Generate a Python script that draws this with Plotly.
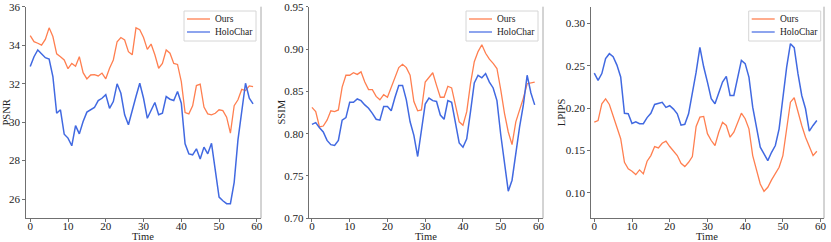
import plotly.graph_objects as go

time = list(range(60))

psnr_ours = [34.5, 34.18, 34.1, 34.0, 34.3, 34.9, 34.45, 33.55, 33.4, 33.23,
             32.78, 33.05, 32.9, 33.4, 32.57, 32.25, 32.45, 32.47, 32.4, 32.55,
             32.25, 32.8, 33.23, 34.18, 34.4, 34.27, 33.66, 33.5, 34.9, 34.8,
             34.4, 33.78, 34.06, 33.5, 32.8, 33.05, 33.75, 33.58, 33.05, 33.0,
             32.1, 30.5, 30.43, 30.85, 31.9, 31.97, 30.78, 30.43, 30.38, 30.46,
             30.64, 30.6, 30.26, 29.43, 30.85, 31.16, 31.7, 31.64, 31.88, 31.85]
psnr_holo = [32.89, 33.4, 33.75, 33.53, 33.35, 33.28, 32.37, 30.46, 30.64, 29.37,
             29.17, 28.77, 29.82, 29.39, 30.03, 30.52, 30.64, 30.76, 31.12, 31.24,
             31.43, 30.72, 31.07, 31.99, 31.5, 30.38, 29.86, 30.64, 31.33, 32.02,
             31.24, 30.2, 30.64, 31.02, 30.38, 30.46, 31.33, 31.19, 31.12, 31.59,
             30.98, 28.87, 28.35, 28.3, 28.61, 28.08, 28.7, 28.35, 28.9, 27.52,
             26.1, 25.91, 25.76, 25.76, 26.87, 29.08, 30.55, 32.02, 31.24, 30.95]

ssim_ours = [0.831, 0.826, 0.808, 0.809, 0.816, 0.827, 0.826, 0.828, 0.855, 0.869,
             0.869, 0.872, 0.870, 0.873, 0.861, 0.852, 0.852, 0.844, 0.840, 0.846,
             0.843, 0.855, 0.867, 0.878, 0.882, 0.878, 0.869, 0.838, 0.827, 0.828,
             0.861, 0.867, 0.872, 0.857, 0.843, 0.843, 0.856, 0.854, 0.834, 0.814,
             0.810, 0.826, 0.859, 0.885, 0.897, 0.905, 0.895, 0.888, 0.883, 0.877,
             0.852, 0.824, 0.802, 0.787, 0.814, 0.828, 0.842, 0.859, 0.860, 0.861]
ssim_holo = [0.811, 0.813, 0.807, 0.802, 0.792, 0.787, 0.786, 0.792, 0.816, 0.819,
             0.837, 0.837, 0.841, 0.839, 0.834, 0.830, 0.824, 0.817, 0.816, 0.832,
             0.832, 0.827, 0.843, 0.857, 0.857, 0.840, 0.814, 0.798, 0.773, 0.804,
             0.835, 0.842, 0.839, 0.838, 0.822, 0.817, 0.839, 0.837, 0.814, 0.789,
             0.784, 0.794, 0.826, 0.860, 0.869, 0.866, 0.871, 0.861, 0.854, 0.839,
             0.799, 0.762, 0.732, 0.745, 0.777, 0.808, 0.834, 0.869, 0.848, 0.834]

lpips_ours = [0.1836, 0.1855, 0.2053, 0.2112, 0.2045, 0.1915, 0.1797, 0.164, 0.1362, 0.1284,
              0.1256, 0.1217, 0.1272, 0.1225, 0.1374, 0.1441, 0.1548, 0.1532, 0.1587, 0.1611,
              0.1548, 0.149, 0.1441, 0.135, 0.1311, 0.1362, 0.143, 0.1785, 0.1895, 0.1903,
              0.170, 0.1619, 0.156, 0.1717, 0.1835, 0.1797, 0.1658, 0.1717, 0.1835, 0.1942,
              0.1876, 0.1757, 0.1441, 0.1264, 0.1106, 0.1019, 0.1066, 0.1154, 0.1232, 0.1303,
              0.1441, 0.1737, 0.2072, 0.2124, 0.1954, 0.1797, 0.1658, 0.154, 0.1441, 0.1492]
lpips_holo = [0.2415, 0.233, 0.241, 0.2586, 0.2645, 0.261, 0.251, 0.237, 0.194, 0.1935,
              0.182, 0.184, 0.1817, 0.1817, 0.189, 0.194, 0.2045, 0.206, 0.207, 0.201,
              0.203, 0.199, 0.1935, 0.180, 0.181, 0.1935, 0.217, 0.2427, 0.272, 0.249,
              0.2309, 0.2112, 0.2053, 0.2172, 0.2309, 0.2376, 0.2151, 0.2151, 0.2349, 0.2566,
              0.2527, 0.2368, 0.2013, 0.1757, 0.154, 0.1462, 0.1382, 0.148, 0.156, 0.1757,
              0.2151, 0.2487, 0.2763, 0.2716, 0.2408, 0.2151, 0.1994, 0.1729, 0.1797, 0.1856]

series_names = ["Ours", "HoloChar"]
y_titles = ["PSNR", "SSIM", "LPIPS"]
x_title = "Time"
x_ticks = [0, 10, 20, 30, 40, 50, 60]
y_ticks = [[26, 28, 30, 32, 34, 36],
           [0.70, 0.75, 0.80, 0.85, 0.90, 0.95],
           [0.10, 0.15, 0.20, 0.25, 0.30]]

ORANGE = "#FF7F50"
BLUE = "#4169E1"
BLUE_LEG = "#8DA4EE"
FONT = "Liberation Serif, Times New Roman, serif"
AX = "#707070"
W, H = 831, 242

panels = [(psnr_ours, psnr_holo), (ssim_ours, ssim_holo), (lpips_ours, lpips_holo)]
px_x = [(25.7, 261.0), (309.3, 543.0), (590.7, 824.0)]
x_ranges = [[-1.2, 61.1], [-0.7, 61.2], [-0.95, 60.9]]
y_ranges = [[25, 36], [0.70, 0.95], [0.07, 0.32]]
tickfmt = [None, ".2f", ".2f"]
ytitle_px = [6.0, 281.0, 561.7]
legend_left_px = [184.0, 466.0, 748.7]
top_px, bot_px = 6.7, 218.3

def fx(p):
    return p / W

def fy(p):
    return 1 - p / H

fig = go.Figure()
shapes, annos = [], []
layout = dict(width=W, height=H, autosize=False,
              margin=dict(l=0, r=0, t=0, b=0, pad=0, autoexpand=False),
              paper_bgcolor="white", plot_bgcolor="white", showlegend=False,
              font=dict(family=FONT, size=11, color="#222"))

for i, (ours, holo) in enumerate(panels):
    n = "" if i == 0 else str(i + 1)
    fig.add_trace(go.Scatter(x=time, y=ours, mode="lines", name=series_names[0],
                             line=dict(color=ORANGE, width=1.3), hoverinfo="skip",
                             xaxis="x" + n, yaxis="y" + n))
    fig.add_trace(go.Scatter(x=time, y=holo, mode="lines", name=series_names[1],
                             line=dict(color=BLUE, width=1.5), hoverinfo="skip",
                             xaxis="x" + n, yaxis="y" + n))
    layout["xaxis" + n] = dict(
        domain=[fx(px_x[i][0]), fx(px_x[i][1])], range=x_ranges[i], anchor="y" + n,
        tickvals=x_ticks, ticks="outside", ticklen=2.5, tickcolor=AX,
        showline=True, linecolor=AX, linewidth=1, showgrid=False, zeroline=False,
        automargin=False, fixedrange=True, ticklabelstandoff=-5,
        tickfont=dict(size=11, family=FONT, color="#222"))
    layout["yaxis" + n] = dict(
        domain=[fy(bot_px), fy(top_px)], range=y_ranges[i], anchor="x" + n,
        tickvals=y_ticks[i], tickformat=tickfmt[i], ticks="outside", ticklen=2.5,
        tickcolor=AX, showline=True, linecolor=AX, linewidth=1,
        showgrid=False, zeroline=False, automargin=False, fixedrange=True,
        tickfont=dict(size=11, family=FONT, color="#222"))
    # right spine
    shapes.append(dict(type="line", xref=f"x{n} domain", yref=f"y{n} domain",
                       x0=1, x1=1, y0=0, y1=1, line=dict(color="#a8a8a8", width=1)))
    # axis titles
    annos.append(dict(text=x_title, xref="paper", yref="paper",
                      x=fx((px_x[i][0] + px_x[i][1]) / 2), y=fy(236.0),
                      xanchor="center", yanchor="middle", showarrow=False,
                      font=dict(size=10.5, family=FONT, color="#222")))
    annos.append(dict(text=y_titles[i], xref="paper", yref="paper",
                      x=fx(ytitle_px[i]), y=fy((top_px + bot_px) / 2), textangle=-90,
                      xanchor="center", yanchor="middle", showarrow=False,
                      font=dict(size=10.5, family=FONT, color="#222")))
    # legend box
    L = legend_left_px[i]
    shapes.append(dict(type="rect", xref="paper", yref="paper", layer="above",
                       x0=fx(L), x1=fx(L + 72), y0=fy(41), y1=fy(11),
                       fillcolor="rgba(255,255,255,0.85)",
                       line=dict(color="#d6d6d6", width=1)))
    for j, (col, wd) in enumerate([(ORANGE, 1.3), (BLUE_LEG, 2.0)]):
        ry = 19.0 + 13.0 * j
        shapes.append(dict(type="line", xref="paper", yref="paper", layer="above",
                           x0=fx(L + 3), x1=fx(L + 26), y0=fy(ry), y1=fy(ry),
                           line=dict(color=col, width=wd)))
        annos.append(dict(text=series_names[j], xref="paper", yref="paper",
                          x=fx(L + 29), y=fy(ry), xanchor="left", yanchor="middle",
                          showarrow=False,
                          font=dict(size=9.5, family=FONT, color="#222")))

layout["shapes"] = shapes
layout["annotations"] = annos
fig.update_layout(**layout)
fig.write_html("out.html",
               config={"displayModeBar": False, "responsive": False, "staticPlot": True},
               post_script="document.body.style.margin='0';document.body.style.padding='0';")
